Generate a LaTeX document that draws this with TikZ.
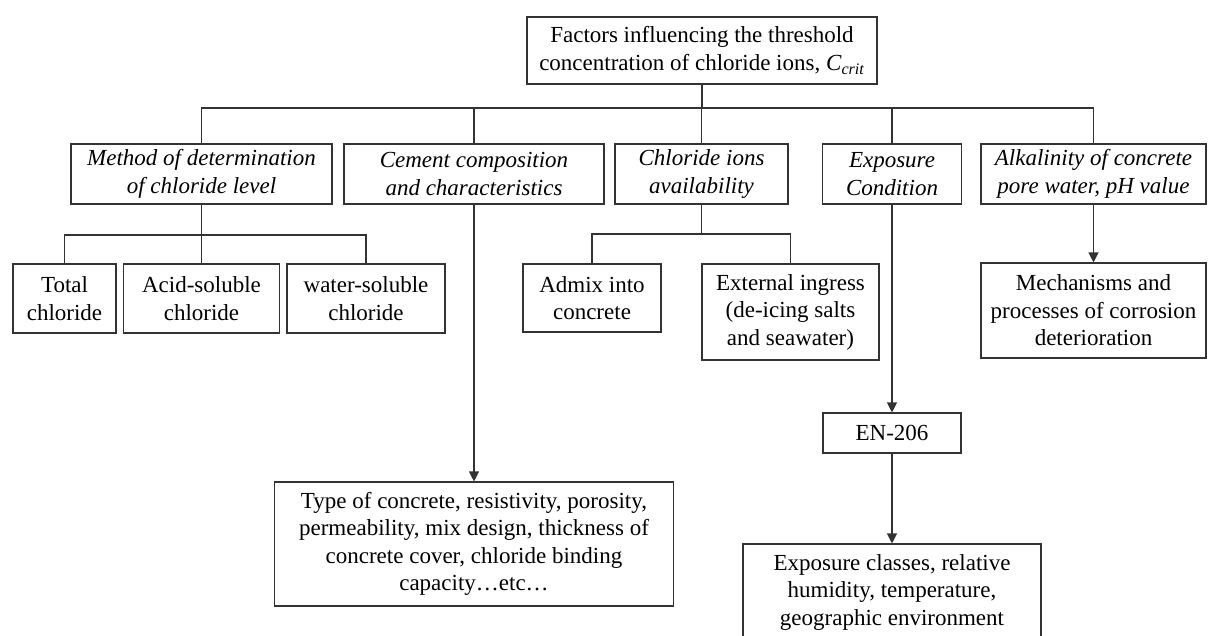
\documentclass[tikz,border=0pt]{standalone}
\usepackage{fontspec}
\setmainfont{Liberation Serif}
\usetikzlibrary{arrows.meta}
\begin{document}
\begin{tikzpicture}[x=1pt,y=-1pt,
  box/.style={draw=black!80, line width=1.1pt, inner sep=0pt, align=center,
    font=\fontsize{23}{27.5}\selectfont},
  factor/.style={box, font=\fontsize{23}{27.5}\selectfont\itshape},
  link/.style={draw=black!80, line width=1.1pt},
  arr/.style={link, -{Triangle[width=10pt,length=10pt]}}]
\clip (0,0) rectangle (1208,635);
\fill[white] (0,0) rectangle (1208,635);

% root
\node[box, minimum width=350pt, minimum height=67pt] (root) at (702,50.5)
  {Factors influencing the threshold\\concentration of chloride ions, \textit{C}\textsubscript{\textit{crit}}};

% first level factors
\node[factor, minimum width=261pt, minimum height=60pt] (method) at (201.5,174)
  {Method of determination\\of chloride level};
\node[factor, minimum width=260pt, minimum height=60pt] (cement) at (474,174)
  {Cement composition\\and characteristics};
\node[factor, minimum width=173pt, minimum height=60pt] (chlor) at (701.5,174)
  {Chloride ions\\availability};
\node[factor, minimum width=139pt, minimum height=60pt] (expo) at (892,174)
  {Exposure\\Condition};
\node[factor, minimum width=225pt, minimum height=60pt] (alk) at (1093.5,174)
  {Alkalinity of concrete\\pore water, pH value};

% second level
\node[box, minimum width=103pt, minimum height=69pt] (total) at (64.5,298.5)
  {Total\\chloride};
\node[box, minimum width=156pt, minimum height=69pt] (acid) at (201.5,298.5)
  {Acid-soluble\\chloride};
\node[box, minimum width=158pt, minimum height=69pt] (water) at (366,298.5)
  {water-soluble\\chloride};
\node[box, minimum width=138pt, minimum height=68pt] (admix) at (592,298)
  {Admix into\\concrete};
\node[box, minimum width=177pt, minimum height=96pt] (ext) at (790.5,312)
  {External ingress\\(de-icing salts\\and seawater)};
\node[box, minimum width=225pt, minimum height=95pt] (mech) at (1093.5,310.5)
  {Mechanisms and\\processes of corrosion\\deterioration};
\node[box, minimum width=138pt, minimum height=40pt] (en) at (892,433)
  {EN-206};
\node[box, minimum width=399pt, minimum height=124pt] (cembot) at (474,544)
  {Type of concrete, resistivity, porosity,\\permeability, mix design, thickness of\\concrete cover, chloride binding\\capacity…etc…};
\node[box, minimum width=298pt, minimum height=96pt] (expcls) at (892,592)
  {Exposure classes, relative\\humidity, temperature,\\geographic environment};

% main bus
\coordinate (bus) at (702,108);
\draw[link] (root.south) -- (bus);
\draw[link] (method.north) -- (method.north |- bus) -- (alk.north |- bus) -- (alk.north);
\draw[link] (cement.north) -- (cement.north |- bus);
\draw[link] (chlor.north) -- (chlor.north |- bus);
\draw[link] (expo.north) -- (expo.north |- bus);

% method branch
\coordinate (mbus) at (0,235);
\draw[link] (method.south) -- (acid.north);
\draw[link] (total.north) -- (total.north |- mbus) -- (water.north |- mbus) -- (water.north);

% chloride branch
\coordinate (cbus) at (0,234);
\draw[link] (chlor.south) -- (chlor.south |- cbus);
\draw[link] (admix.north) -- (admix.north |- cbus) -- (ext.north |- cbus) -- (ext.north);

% arrows
\draw[arr] (cement.south) -- (cembot.north);
\draw[arr] (expo.south) -- (en.north);
\draw[arr] (en.south) -- (expcls.north);
\draw[arr] (alk.south) -- (mech.north);
\end{tikzpicture}
\end{document}
